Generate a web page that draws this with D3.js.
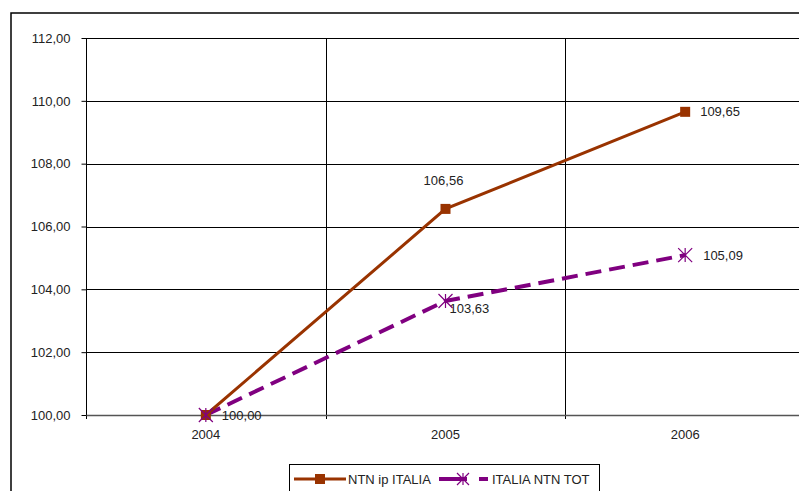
<!DOCTYPE html>
<html>
<head>
<meta charset="utf-8">
<script src="https://cdn.jsdelivr.net/npm/d3@7"></script>
<style>
  html, body { margin: 0; padding: 0; background: #fff; }
  svg { display: block; font-family: "Liberation Sans", Arial, sans-serif; }
</style>
</head>
<body>
<svg id="chart" width="799" height="491"></svg>
<script>
// Index values, 2004 = 100
const years = ["2004", "2005", "2006"];
const ntnIpItalia = [100.00, 106.56, 109.65];
const italiaNtnTot = [100.00, 103.63, 105.09];
const yTicks = [100, 102, 104, 106, 108, 110, 112];
const seriesNames = ["NTN ip ITALIA", "ITALIA NTN TOT"];

const fmt = v => d3.format(".2f")(v).replace(".", ",");
const FS = 13;

const svg = d3.select("#chart");
const plot = { left: 86, top: 38, right: 805, bottom: 415 };

// outer chart frame
svg.append("rect")
  .attr("x", 11).attr("y", 13)
  .attr("width", 820).attr("height", 520)
  .attr("fill", "none").attr("stroke", "#000").attr("stroke-width", 1.5);

const x = d3.scaleBand().domain(years).range([plot.left, plot.right]);
const y = d3.scaleLinear().domain([100, 112]).range([plot.bottom, plot.top]);

// horizontal gridlines
svg.append("g").selectAll("line").data(yTicks.slice(1)).join("line")
  .attr("x1", plot.left).attr("x2", plot.right)
  .attr("y1", d => Math.round(y(d)) + 0.5).attr("y2", d => Math.round(y(d)) + 0.5)
  .attr("stroke", "#000").attr("stroke-width", 1);

// vertical gridlines at category boundaries
const bounds = years.slice(1).map(d => x(d));
svg.append("g").selectAll("line").data(bounds).join("line")
  .attr("x1", d => Math.round(d) + 0.5).attr("x2", d => Math.round(d) + 0.5)
  .attr("y1", plot.top).attr("y2", plot.bottom + 4)
  .attr("stroke", "#000").attr("stroke-width", 1);

// y axis
const yAxis = svg.append("g")
  .attr("transform", `translate(${plot.left + 0.5},0)`)
  .call(d3.axisLeft(y).tickValues(yTicks).tickFormat(fmt).tickSize(5).tickSizeOuter(0).tickPadding(11));
yAxis.select(".domain").attr("stroke", "#000").attr("d", `M0,${plot.top}V${plot.bottom + 4}`);
yAxis.selectAll(".tick line").attr("stroke", "#000");
yAxis.selectAll("text").attr("font-size", FS).attr("fill", "#222")
  .attr("font-family", "'Liberation Sans', Arial, sans-serif");

// x axis
const xAxis = svg.append("g")
  .attr("transform", `translate(0,${plot.bottom})`)
  .call(d3.axisBottom(x).tickSize(0).tickPadding(15));
xAxis.select(".domain").attr("stroke", "#555").attr("stroke-width", 1.5);
xAxis.selectAll("text").attr("font-size", FS).attr("fill", "#222")
  .attr("font-family", "'Liberation Sans', Arial, sans-serif");

const cx = d => x(d) + x.bandwidth() / 2;
const line = d3.line().x(d => cx(d.year)).y(d => y(d.value));

const dataA = years.map((year, i) => ({ year, value: ntnIpItalia[i] }));
const dataB = years.map((year, i) => ({ year, value: italiaNtnTot[i] }));

const orange = "#993300";
const purple = "#800080";

// dashed series
svg.append("path").datum(dataB)
  .attr("d", line).attr("fill", "none")
  .attr("stroke", purple).attr("stroke-width", 4)
  .attr("stroke-dasharray", "16,8");

// solid series
svg.append("path").datum(dataA)
  .attr("d", line).attr("fill", "none")
  .attr("stroke", orange).attr("stroke-width", 3);

function star(g, px, py, r) {
  g.append("path")
    .attr("d", `M${px},${py - r}V${py + r}M${px - r},${py - r}L${px + r},${py + r}M${px - r},${py + r}L${px + r},${py - r}`)
    .attr("stroke", purple).attr("stroke-width", 1.2).attr("fill", "none");
}

// markers
svg.append("g").selectAll("rect").data(dataA).join("rect")
  .attr("x", d => cx(d.year) - 5).attr("y", d => y(d.value) - 5)
  .attr("width", 10).attr("height", 10).attr("fill", orange);
const starG = svg.append("g");
dataB.forEach(d => star(starG, cx(d.year), y(d.value), 7));

// value labels
const labelA = [
  { dx: 0, dy: -28, anchor: "middle" },
  { dx: -2, dy: -28, anchor: "middle" },
  { dx: 15, dy: 0, anchor: "start" }
];
const labelB = [
  { dx: 16, dy: 0, anchor: "start" },
  { dx: 4, dy: 8, anchor: "start" },
  { dx: 18, dy: 0, anchor: "start" }
];
const lblStyle = sel => sel.attr("font-size", FS).attr("fill", "#222").attr("dominant-baseline", "central");

svg.append("g").selectAll("text").data(dataA.slice(1)).join("text")
  .attr("x", (d, i) => cx(d.year) + labelA[i + 1].dx)
  .attr("y", (d, i) => y(d.value) + labelA[i + 1].dy)
  .attr("text-anchor", (d, i) => labelA[i + 1].anchor)
  .text(d => fmt(d.value)).call(lblStyle);

svg.append("g").selectAll("text").data(dataB).join("text")
  .attr("x", (d, i) => cx(d.year) + labelB[i].dx)
  .attr("y", (d, i) => y(d.value) + labelB[i].dy)
  .attr("text-anchor", (d, i) => labelB[i].anchor)
  .text(d => fmt(d.value)).call(lblStyle);

// legend
const legend = svg.append("g");
legend.append("rect")
  .attr("x", 289.5).attr("y", 464.5).attr("width", 310).attr("height", 40)
  .attr("fill", "#fff").attr("stroke", "#000").attr("stroke-width", 1);
const ly = 479;
legend.append("line").attr("x1", 294).attr("x2", 346).attr("y1", ly).attr("y2", ly)
  .attr("stroke", orange).attr("stroke-width", 3);
legend.append("rect").attr("x", 315).attr("y", ly - 5).attr("width", 10).attr("height", 10).attr("fill", orange);
legend.append("text").attr("x", 348).attr("y", ly).text(seriesNames[0]).call(lblStyle);

legend.append("line").attr("x1", 439).attr("x2", 488).attr("y1", ly).attr("y2", ly)
  .attr("stroke", purple).attr("stroke-width", 4).attr("stroke-dasharray", "28,12");
star(legend, 463, ly, 6);
legend.append("text").attr("x", 492).attr("y", ly).text(seriesNames[1]).call(lblStyle);
</script>
</body>
</html>
